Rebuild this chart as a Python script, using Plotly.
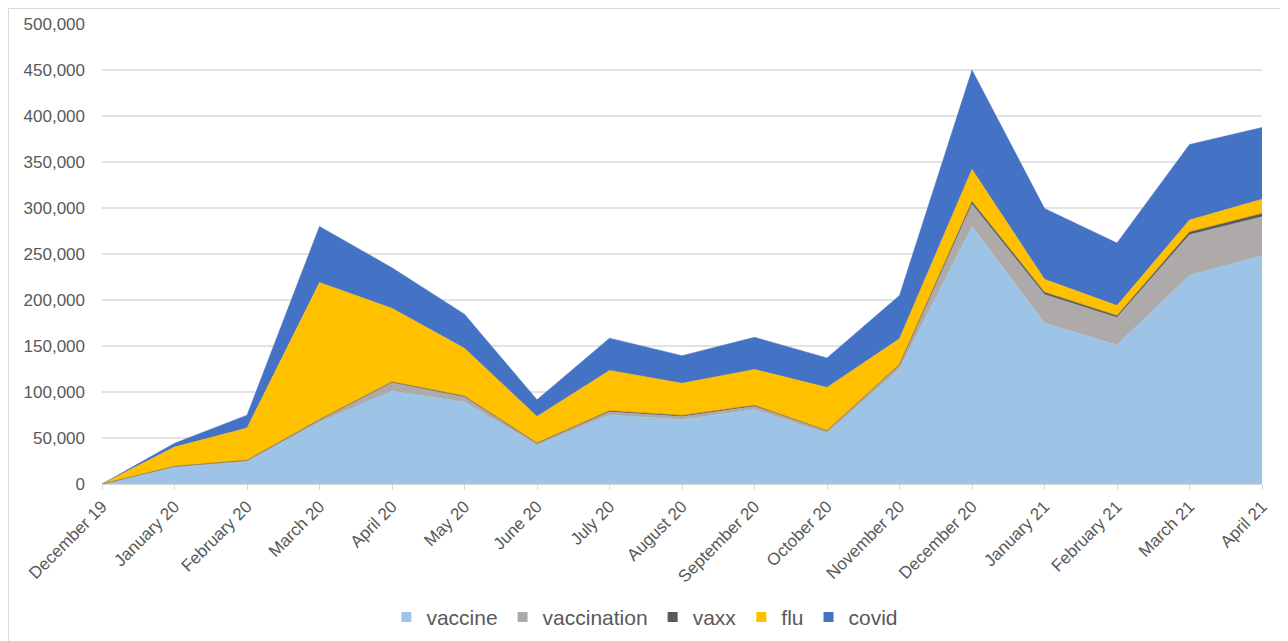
import plotly.graph_objects as go

months = ["December 19", "January 20", "February 20", "March 20", "April 20", "May 20",
          "June 20", "July 20", "August 20", "September 20", "October 20", "November 20",
          "December 20", "January 21", "February 21", "March 21", "April 21"]

vaccine = [0, 18000, 24000, 67000, 101000, 89000, 42000, 75000, 70000, 81000, 55000,
           125000, 280000, 175000, 151000, 227000, 248000]
vaccination = [0, 1000, 1500, 2500, 9000, 5500, 2000, 3500, 3500, 3500, 2500,
               4000, 24000, 31000, 30000, 44000, 42500]
vaxx = [0, 200, 300, 500, 1000, 1000, 500, 1000, 1000, 1000, 500,
        1000, 3000, 2500, 2000, 3000, 3500]
flu = [0, 21000, 35000, 149000, 80000, 52000, 29000, 44000, 35000, 39000, 47000,
       28000, 35000, 14000, 11000, 13000, 15500]
covid = [0, 4000, 14000, 61000, 44000, 37000, 18000, 35000, 30000, 35000, 32000,
         47000, 108000, 77000, 68000, 82000, 78000]

series = [("vaccine", vaccine, "#9DC3E6"),
          ("vaccination", vaccination, "#AEAAAA"),
          ("vaxx", vaxx, "#595959"),
          ("flu", flu, "#FFC000"),
          ("covid", covid, "#4472C4")]

fig = go.Figure()
for name, vals, col in series:
    fig.add_trace(go.Scatter(
        x=months, y=vals, name=name, mode="lines",
        stackgroup="one", line=dict(width=0.5, color=col),
        fillcolor=col, showlegend=False,
    ))
# legend entries with square swatches
for name, vals, col in series:
    fig.add_trace(go.Scatter(
        x=[months[0]], y=[None], name=name, mode="markers",
        marker=dict(symbol="square", size=10, color=col),
        showlegend=True, hoverinfo="skip",
    ))

font_family = "Liberation Sans, Arial, sans-serif"
W, H = 1280, 633
L, R, T, B = 94, 26, 16, 157
pw = W - L - R
ph = H - T - B
fig.update_layout(
    width=W, height=H,
    margin=dict(l=L, r=R, t=T, b=B, autoexpand=False),
    paper_bgcolor="white", plot_bgcolor="white",
    font=dict(family=font_family, color="#595959", size=17),
    showlegend=True,
    legend=dict(orientation="h", x=0.468, xanchor="center", y=-0.29, yanchor="middle",
                font=dict(size=21, color="#595959"), traceorder="normal",
                itemwidth=30, tracegroupgap=0),
    xaxis=dict(type="category", range=[0, 16], showgrid=False, automargin=False,
               tickangle=-45, ticks="outside", ticklen=5, tickcolor="#D9D9D9",
               showline=True, linecolor="#D9D9D9", linewidth=1,
               tickfont=dict(size=17, color="#595959")),
    yaxis=dict(range=[0, 500000], dtick=50000, tickformat=",", automargin=False,
               showgrid=True, gridcolor="#E3E3E3", gridwidth=1.5,
               zeroline=False, showline=False, ticks="",
               tickfont=dict(size=17, color="#595959"), ticklabelstandoff=16),
)

# outer frame around the chart (in pixel-derived paper coordinates)
fig.add_shape(type="rect", xref="paper", yref="paper",
              x0=(0.5 - L) / pw, x1=(W + 10 - L) / pw,
              y0=-(B + 10) / ph, y1=(ph + T - 0.5) / ph,
              line=dict(color="#D9D9D9", width=1), fillcolor="rgba(0,0,0,0)",
              layer="below")

fig.write_html("out.html")
